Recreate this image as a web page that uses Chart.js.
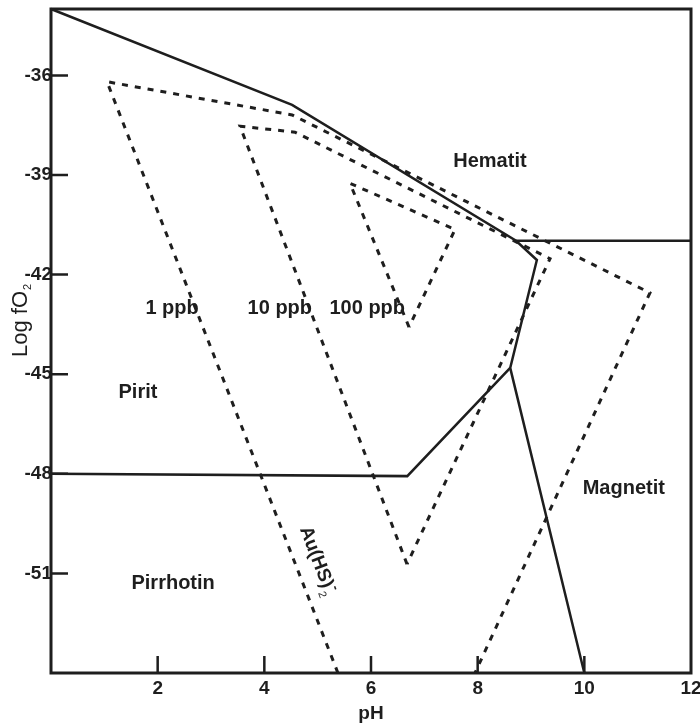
<!DOCTYPE html>
<html lang="id">
<head>
<meta charset="UTF-8">
<title>Diagram pH - Log fO2</title>
<style>
    html, body { margin: 0; padding: 0; background: #fff; }
</style>
<script src="https://cdn.jsdelivr.net/npm/chart.js@4.4.1/dist/chart.umd.min.js"></script>
</head>
<body>
<canvas id="diagram" width="700" height="725"></canvas>
<script>
// tick values
const phTicks = [2, 4, 6, 8, 10, 12];
const fo2Ticks = [-51, -48, -45, -42, -39, -36];

// solid mineral boundaries (pH, log fO2)
const upperPH  = [0, 4.52, 8.72, 9.11, 8.61, 10.0];
const upperFO2 = [-34, -36.89, -40.98, -41.56, -44.81, -54];
const hemMagPH  = [8.72, 12];
const hemMagFO2 = [-40.98, -40.98];
const pyPoPH  = [8.61, 6.68, 0];
const pyPoFO2 = [-44.81, -48.07, -48.0];

// Au(HS)2- solubility contours (dashed)
const ppb1PH  = [5.38, 1.05, 4.52, 11.23, 7.95];
const ppb1FO2 = [-54, -36.19, -37.19, -42.55, -54];
const ppb10PH  = [6.675, 3.544, 4.575, 9.357, 6.675];
const ppb10FO2 = [-50.72, -37.53, -37.71, -41.52, -50.72];
const ppb100PH  = [6.713, 5.606, 7.575, 6.713];
const ppb100FO2 = [-43.58, -39.25, -40.64, -43.58];

// field names and where they sit
const fieldNames = ['Hematit', 'Pirit', 'Pirrhotin', 'Magnetit', '1 ppb', '10 ppb', '100 ppb'];
const fieldPH  = [8.23, 1.63, 2.29, 10.74, 2.27, 4.29, 5.93];
const fieldFO2 = [-38.77, -45.73, -51.48, -48.6, -43.19, -43.19, -43.19];

const ink = '#1e1e1e';
const fontFam = '"Liberation Sans", Arial, sans-serif';

function pts(xs, ys) {
    return xs.map((x, i) => ({ x: x, y: ys[i] }));
}

function lineSet(xs, ys, dashed) {
    return {
        data: pts(xs, ys),
        showLine: true,
        borderColor: ink,
        borderWidth: dashed ? 3 : 2.5,
        borderDash: dashed ? [6, 7] : [],
        pointRadius: 0,
        fill: false,
        tension: 0,
        clip: false
    };
}

// frame, inward ticks and the text labels inside the plot
const diagramDecor = {
    id: 'diagramDecor',
    afterDraw(chart) {
        const ctx = chart.ctx;
        const a = chart.chartArea;
        const x = chart.scales.x, y = chart.scales.y;
        ctx.save();
        ctx.strokeStyle = ink;
        ctx.lineWidth = 3;
        ctx.strokeRect(a.left, a.top, a.right - a.left, a.bottom - a.top);

        ctx.lineWidth = 2.5;
        ctx.beginPath();
        phTicks.forEach(v => {
            if (v >= 12) return;
            const px = x.getPixelForValue(v);
            ctx.moveTo(px, a.bottom);
            ctx.lineTo(px, a.bottom - 17);
        });
        fo2Ticks.forEach(v => {
            const py = y.getPixelForValue(v);
            ctx.moveTo(a.left, py);
            ctx.lineTo(a.left + 17, py);
        });
        ctx.stroke();

        ctx.fillStyle = ink;
        ctx.font = 'bold 20px ' + fontFam;
        ctx.textAlign = 'center';
        ctx.textBaseline = 'alphabetic';
        fieldNames.forEach((t, i) => {
            ctx.fillText(t, x.getPixelForValue(fieldPH[i]), y.getPixelForValue(fieldFO2[i]));
        });

        // Au(HS)2- written along the 1 ppb line
        ctx.save();
        ctx.translate(x.getPixelForValue(4.97), y.getPixelForValue(-50.51));
        ctx.rotate(69 * Math.PI / 180);
        ctx.font = 'bold 19px ' + fontFam;
        ctx.textBaseline = 'middle';
        ctx.fillText('Au(HS)', 0, 0);
        const w = ctx.measureText('Au(HS)').width;
        ctx.font = 'bold 13px ' + fontFam;
        ctx.textAlign = 'left';
        ctx.fillText('-', w / 2 + 1, -7);
        ctx.font = '11px ' + fontFam;
        ctx.fillText('2', w / 2 + 2, 8);
        ctx.restore();

        // y axis title with subscript
        ctx.save();
        ctx.translate(27, 357);
        ctx.rotate(-Math.PI / 2);
        ctx.textAlign = 'left';
        ctx.textBaseline = 'alphabetic';
        ctx.font = '22px ' + fontFam;
        ctx.fillText('Log fO', 0, 0);
        const tw = ctx.measureText('Log fO').width;
        ctx.font = '11px ' + fontFam;
        ctx.fillText('2', tw + 1, 4);
        ctx.restore();

        ctx.restore();
    }
};

new Chart(document.getElementById('diagram'), {
    type: 'scatter',
    data: {
        datasets: [
            lineSet(upperPH, upperFO2, false),
            lineSet(hemMagPH, hemMagFO2, false),
            lineSet(pyPoPH, pyPoFO2, false),
            lineSet(ppb1PH, ppb1FO2, true),
            lineSet(ppb10PH, ppb10FO2, true),
            lineSet(ppb100PH, ppb100FO2, true)
        ]
    },
    options: {
        responsive: false,
        animation: false,
        layout: { padding: { top: 9, right: 9, left: 0, bottom: 0 } },
        plugins: {
            legend: { display: false },
            tooltip: { enabled: false }
        },
        scales: {
            x: {
                type: 'linear',
                min: 0,
                max: 12,
                afterBuildTicks: s => { s.ticks = phTicks.map(v => ({ value: v })); },
                afterFit: s => { s.height = 52; s.paddingLeft = 0; s.paddingRight = 0; },
                grid: { display: false, drawTicks: false },
                border: { display: false },
                ticks: {
                    color: ink,
                    padding: 4,
                    maxRotation: 0,
                    font: { family: fontFam, size: 19, weight: 'bold' }
                },
                title: {
                    display: true,
                    text: 'pH',
                    color: ink,
                    padding: 0,
                    font: { family: fontFam, size: 19, weight: 'bold' }
                }
            },
            y: {
                type: 'linear',
                min: -54,
                max: -34,
                afterBuildTicks: s => { s.ticks = fo2Ticks.map(v => ({ value: v })); },
                afterFit: s => { s.width = 51; s.paddingTop = 0; s.paddingBottom = 0; },
                grid: { display: false, drawTicks: false },
                border: { display: false },
                ticks: {
                    color: ink,
                    padding: -1,
                    font: { family: fontFam, size: 19, weight: 'bold' }
                }
            }
        }
    },
    plugins: [diagramDecor]
});
</script>
</body>
</html>
